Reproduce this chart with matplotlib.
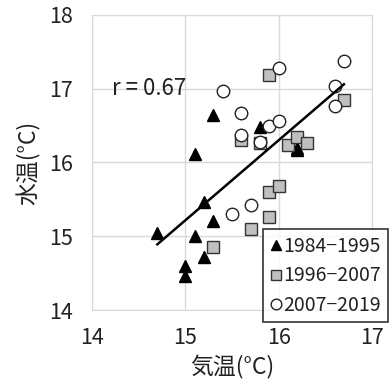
import numpy as np
import matplotlib
matplotlib.use("Agg")
import matplotlib.pyplot as plt

plt.rcParams['font.family'] = ['Noto Sans CJK JP', 'DejaVu Sans']

# 1984-1995
air_a = [14.7, 15.1, 15.3, 15.1, 15.2, 15.3, 15.2, 15.0, 15.0, 15.8, 16.2, 16.2]
water_a = [15.05, 15.0, 16.65, 16.12, 15.47, 15.2, 14.72, 14.6, 14.46, 16.48, 16.17, 16.2]
# 1996-2007
air_b = [15.9, 16.7, 15.6, 15.8, 16.1, 16.2, 16.3, 15.9, 16.0, 15.9, 15.7, 15.3]
water_b = [17.18, 16.85, 16.3, 16.26, 16.24, 16.35, 16.27, 15.6, 15.68, 15.26, 15.1, 14.86]
# 2007-2019
air_c = [15.4, 16.0, 16.7, 16.6, 16.6, 15.6, 15.6, 15.9, 16.0, 15.8, 15.7, 15.5]
water_c = [16.97, 17.28, 17.37, 17.03, 16.77, 16.67, 16.37, 16.5, 16.56, 16.28, 15.42, 15.3]

trend_x = [14.7, 16.7]
trend_y = [14.89, 17.06]

labels = ['1984\u22121995', '1996\u22122007', '2007\u22122019']

fig = plt.figure(figsize=(3.89, 3.83), dpi=100)
ax = fig.add_axes([0.2365, 0.1906, 0.7195, 0.7704])

ax.plot(air_a, water_a, '^', color='black', markersize=8.5, label=labels[0], zorder=3)
ax.plot(air_b, water_b, 's', markerfacecolor='#bfbfbf', markeredgecolor='#333333',
        markeredgewidth=1.0, markersize=8, label=labels[1], zorder=3)
ax.plot(air_c, water_c, 'o', markerfacecolor='white', markeredgecolor='#222222',
        markeredgewidth=1.0, markersize=9, label=labels[2], zorder=4)
ax.plot(trend_x, trend_y, '-', color='black', linewidth=1.8, zorder=5)

ax.text(14.21, 17.0, 'r = 0.67', fontsize=16, color='#222222', va='center', ha='left')

ax.set_xlim(14, 17)
ax.set_ylim(14, 18)
ax.set_xticks([14, 15, 16, 17])
ax.set_yticks([14, 15, 16, 17, 18])
ax.grid(True, color='#d9d9d9', linewidth=1.0)
ax.set_axisbelow(True)
for s in ax.spines.values():
    s.set_color('#d9d9d9')
ax.tick_params(length=0, labelsize=15.5, colors='#222222')
ax.tick_params(axis='x', pad=12)
ax.tick_params(axis='y', pad=14)
ax.set_xlabel('気温(°C)', fontsize=16.5, color='#222222', labelpad=5)
ax.set_ylabel('水温(°C)', fontsize=16.5, color='#222222', labelpad=6)

leg = fig.legend(loc='upper left', bbox_to_anchor=(0.676, 0.401), fontsize=14,
                 frameon=True, fancybox=False, edgecolor='black', handlelength=0.6,
                 handletextpad=0.1, borderpad=0.35, labelspacing=0.42, borderaxespad=0,
                 markerscale=0.85)
leg.get_frame().set_linewidth(1.2)
leg.set_zorder(10)
for t in leg.get_texts():
    t.set_color('#222222')

fig.savefig('out.png', dpi=100)
